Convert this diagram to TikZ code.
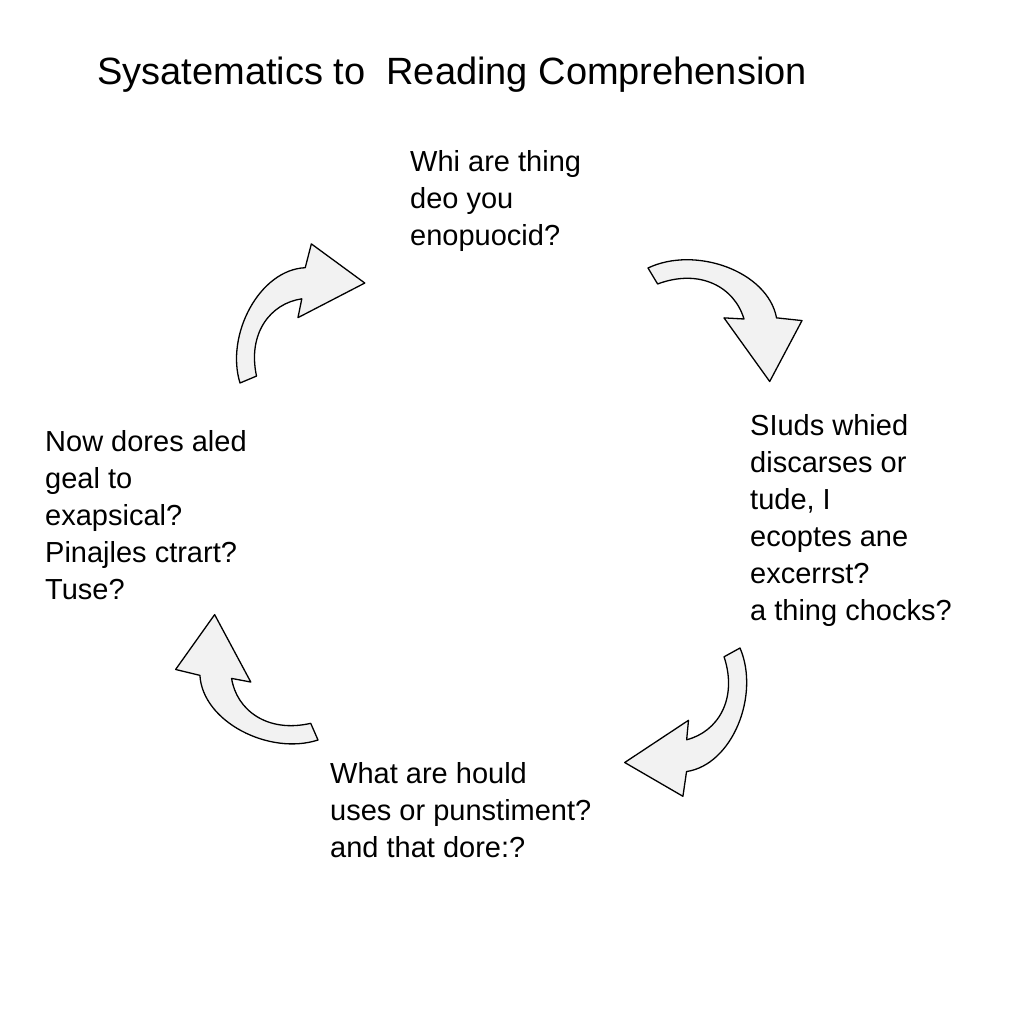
\documentclass[tikz,border=0pt]{standalone}
\usepackage{fontspec}
\setmainfont{Liberation Sans}
\begin{document}
\begin{tikzpicture}[x=1pt,y=-1pt,
  txt/.style={anchor=north west,align=left,font=\fontsize{29}{37}\selectfont,inner sep=0pt},
  pics/carrow/.style={code={
    \draw[line width=1.3pt,fill=gray!10,line join=round]
      (0,0) .. controls (15,-38) and (70,-62) .. (100,-40) -- (116,-52) -- (130,0)
      -- (70,-12) -- (82,-22) .. controls (60,-35) and (30,-28) .. (14,4) -- cycle;}}]
\useasboundingbox[fill=white] (0,0) rectangle (1024,1024);
\node[anchor=west,font=\fontsize{38}{44}\selectfont,inner sep=0pt] (title) at (97,75) {Sysatematics to\ \ Reading Comprehension};
\node[txt] (top) at (410,150) {Whi are thing\\deo you\\enopuocid?};
\node[txt] (right) at (750,414) {SIuds whied\\discarses or\\tude, I\\ecoptes ane\\excerrst?\\a thing chocks?};
\node[txt] (bottom) at (330,762) {What are hould\\uses or punstiment?\\and that dore:?};
\node[txt] (left) at (45,430) {Now dores aled\\geal to\\exapsical?\\Pinajles ctrart?\\Tuse?};
\pic[shift={(240,383)},rotate=38.7,scale=1.23] (a1) {carrow};
\pic[shift={(648,268)},rotate=-43,scale=1.28] (a2) {carrow};
\pic[shift={(740,648)},rotate=-135.2,scale=1.25] (a3) {carrow};
\pic[shift={(318,740)},rotate=129.5,scale=1.25] (a4) {carrow};
\end{tikzpicture}
\end{document}
